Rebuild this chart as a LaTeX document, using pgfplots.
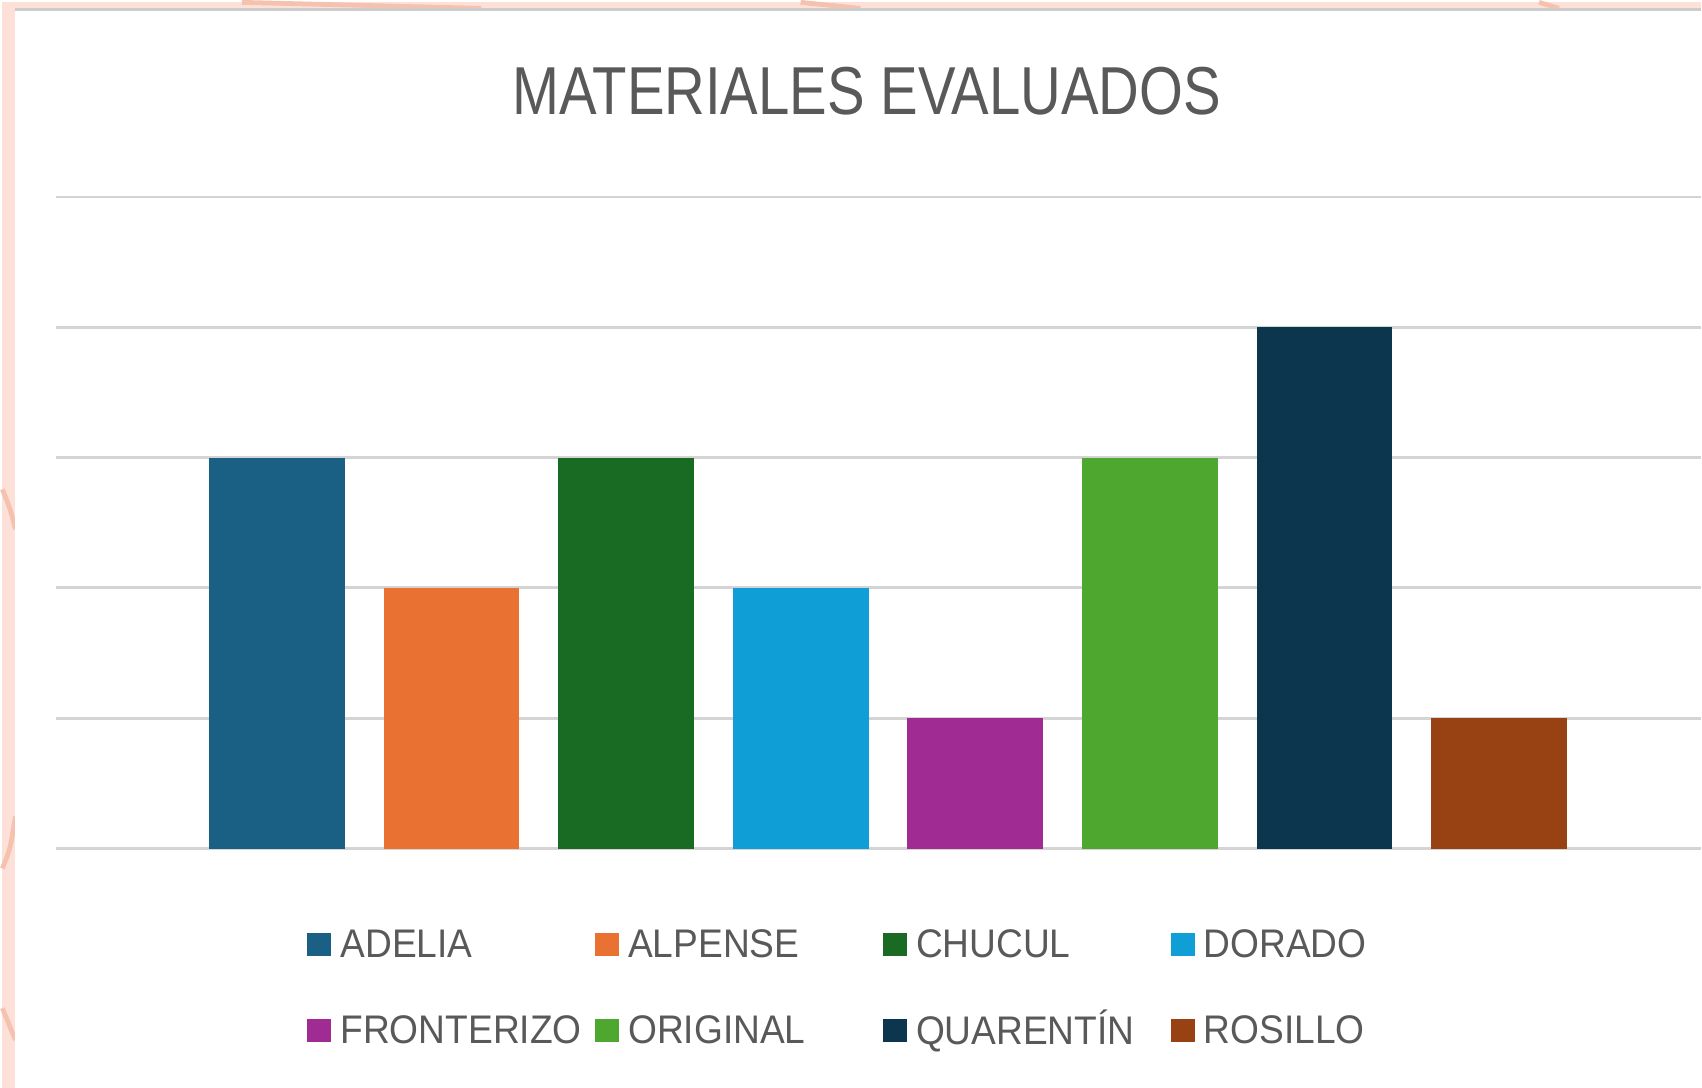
\documentclass[border=0pt]{standalone}
\usepackage{pgfplots}
\pgfplotsset{compat=1.18}
\usepackage{fontspec}
\setmainfont{Liberation Sans}
\newfontfamily\titlefont[FakeStretch=0.83]{Liberation Sans}
\newfontfamily\legfont[FakeStretch=0.93]{Liberation Sans}
\definecolor{cA}{HTML}{196084}
\definecolor{cB}{HTML}{E97132}
\definecolor{cC}{HTML}{196B24}
\definecolor{cD}{HTML}{0F9ED5}
\definecolor{cE}{HTML}{A02B93}
\definecolor{cF}{HTML}{4EA72E}
\definecolor{cG}{HTML}{0C364D}
\definecolor{cH}{HTML}{984213}
\definecolor{pinkbg}{HTML}{FDE1D9}
\definecolor{pinkline}{HTML}{F4C2AE}
\definecolor{txt}{HTML}{595959}
\definecolor{grid}{HTML}{D4D4D4}
\newcommand{\lw}[1]{\makebox[63.1pt][l]{\hspace{0.8pt}\rule[-2.5pt]{0pt}{10.5pt}#1}}
\begin{document}
\begin{tikzpicture}
\fill[pinkbg] (0,0) rectangle (425.5pt,272pt);
\draw[pinkline, line width=1.2pt] (0,150pt) .. controls (2pt,145pt) .. (3.25pt,140pt);
\draw[pinkline, line width=1.2pt] (0,55pt) .. controls (2pt,60pt) .. (3.25pt,68pt);
\draw[pinkline, line width=1.2pt] (0,20pt) -- (3.25pt,12pt);
\draw[pinkline, line width=1.2pt] (60pt,272pt) -- (120pt,270.5pt);
\draw[pinkline, line width=1.2pt] (200pt,272pt) -- (215pt,270.5pt);
\draw[pinkline, line width=1.2pt] (385pt,272pt) -- (390pt,270.5pt);
\fill[white] (3.25pt,0) rectangle (425.5pt,270.5pt);
\draw[gray!40, line width=0.6pt] (3.25pt,270.2pt) -- (425.5pt,270.2pt);
\begin{axis}[
  at={(13.5pt,60pt)}, anchor=south west,
  scale only axis, width=412pt, height=163.25pt,
  xmin=-1.263, xmax=8.154, ymin=0, ymax=5,
  axis lines=none,
  ybar, bar width=34pt, bar shift=0pt,
  clip=false,
  title={\titlefont\fontsize{17pt}{19pt}\selectfont MATERIALES EVALUADOS},
  title style={at={(0.4927,1)}, anchor=base, yshift=14.7pt, text=txt, inner sep=0pt},
  legend columns=4,
  legend image code/.code={\fill[#1] (0pt,-2.9pt) rectangle (6pt,2.9pt);},
  legend style={at={(0.1522,-0.105)}, anchor=north west, draw=none, fill=none,
    inner sep=0pt, font=\legfont\fontsize{10pt}{12pt}\selectfont, text=txt,
    nodes={inner xsep=1.5pt, inner ysep=2pt},
    row sep=7.6pt, column sep=0pt},
]
\foreach \yy in {0,1,2,3,4,5} {
  \edef\tmp{\noexpand\draw[grid, line width=0.7pt] (axis cs:-1.263,\yy) -- (axis cs:8.154,\yy);}
  \tmp
}
\addplot[fill=cA, draw=none] coordinates {(0,3)};
\addplot[fill=cB, draw=none] coordinates {(1,2)};
\addplot[fill=cC, draw=none] coordinates {(2,3)};
\addplot[fill=cD, draw=none] coordinates {(3,2)};
\addplot[fill=cE, draw=none] coordinates {(4,1)};
\addplot[fill=cF, draw=none] coordinates {(5,3)};
\addplot[fill=cG, draw=none] coordinates {(6,4)};
\addplot[fill=cH, draw=none] coordinates {(7,1)};
\legend{\lw{ADELIA},\lw{ALPENSE},\lw{CHUCUL},\lw{DORADO},\lw{FRONTERIZO},\lw{ORIGINAL},\lw{QUARENTÍN},\lw{ROSILLO}}
\end{axis}
\useasboundingbox (0,0) rectangle (425.5pt,272pt);
\end{tikzpicture}
\end{document}
